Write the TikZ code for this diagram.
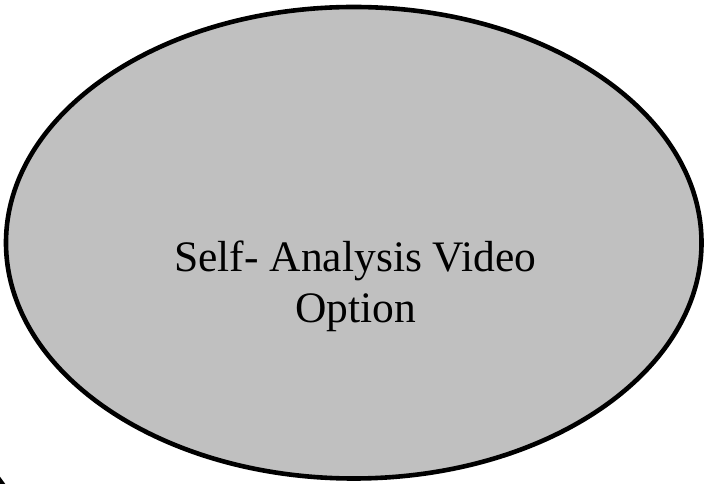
\documentclass[tikz,border=0pt]{standalone}
\usepackage{fontspec}
\setmainfont{Liberation Serif}
\usetikzlibrary{shapes.geometric}
\definecolor{ovalgray}{HTML}{C0C0C0}
\tikzset{
  oval/.style={ellipse, draw=black, fill=ovalgray, line width=4.6pt, inner sep=0pt},
  ovaltext/.style={align=center, font=\fontsize{43.5}{51}\selectfont, inner sep=0pt},
}
\begin{document}
\begin{tikzpicture}[x=1pt,y=1pt]
\useasboundingbox (0,0) rectangle (706,484);
\node[oval, minimum width=695.5pt, minimum height=471.5pt] (oval) at (353.75,241.25) {};
\node[ovaltext, anchor=base] (lbl) at (355.5,161) {Self- Analysis Video\\Option};
\begin{scope}
\clip (0,0) rectangle (706,484);
\coordinate (m1) at (-3,8);
\coordinate (m2) at (5,-3);
\draw[line width=4pt] (m1) -- (m2);
\end{scope}
\end{tikzpicture}
\end{document}
